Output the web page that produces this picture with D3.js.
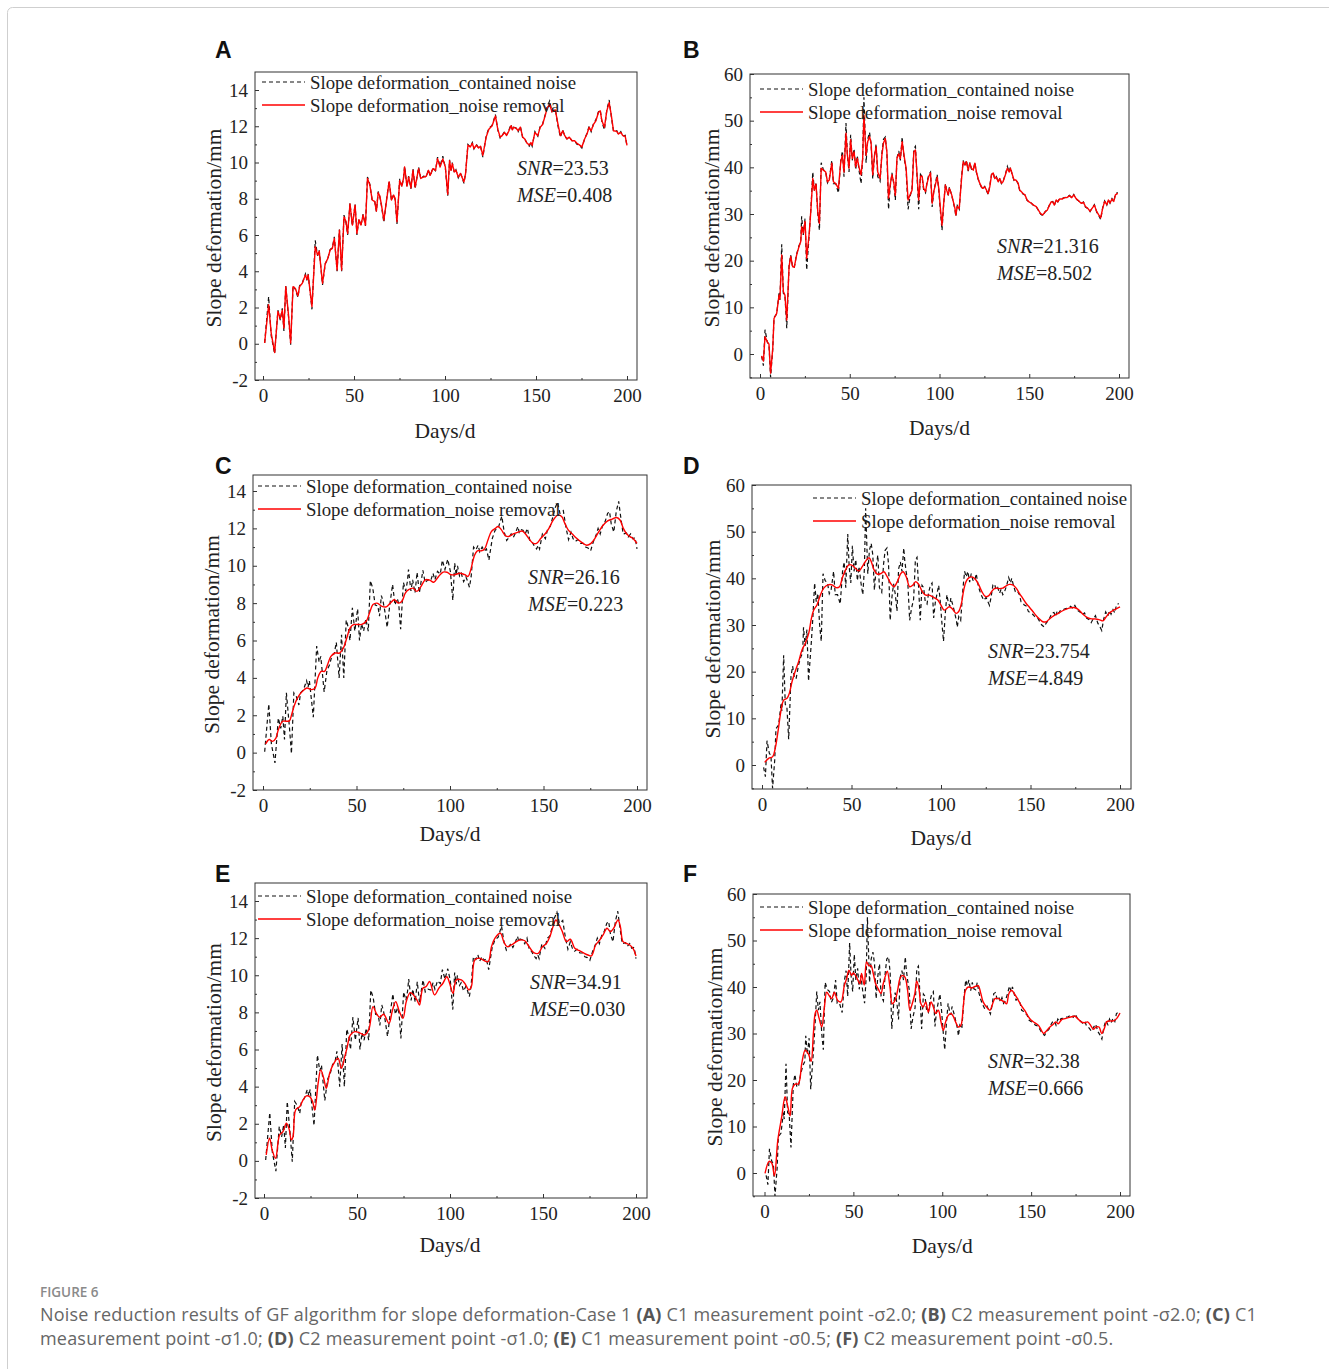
<!DOCTYPE html>
<html>
<head>
<meta charset="utf-8">
<script src="https://cdn.jsdelivr.net/npm/d3@7"></script>
<style>
  html, body { margin: 0; padding: 0; background: #fff; }
  svg { display: block; }
  .tick text { font-family: "Liberation Serif", "Times New Roman", serif; font-size: 19px; fill: #222; }
  .domain { display: none; }
  .tick line { stroke: #333; stroke-width: 1; }
</style>
</head>
<body>
<svg id="fig" width="1329" height="1369"></svg>
<script>
// ---- C1 measurement point: raw series with noise and Gaussian-filtered results ----
const c1Days = [0.9,3.1,4.5,6.4,8.2,9.5,10.6,11.5,12.5,14.1,15.2,16.5,17.8,19.2,20.1,21.6,23.3,24.1,24.8,26.9,28.7,30.0,30.9,32.7,34.2,35.6,36.9,38.1,39.2,40.7,42.0,43.2,44.5,45.6,46.5,47.8,49.1,50.6,51.6,52.7,53.8,55.0,56.3,57.4,58.7,60.0,61.4,62.3,63.3,64.2,65.1,66.4,67.8,69.3,70.6,71.8,72.6,73.6,75.1,76.3,77.2,77.8,79.1,80.0,81.3,82.4,83.6,85.5,86.7,88.2,89.7,90.9,91.9,93.3,94.8,95.9,97.3,98.8,100.2,101.5,102.5,103.3,104.0,105.1,106.0,107.3,108.5,109.3,110.4,111.3,112.6,113.9,115.0,115.9,117.2,118.5,119.5,120.8,122.6,124.1,125.9,127.7,129.0,130.3,131.4,132.7,133.8,135.0,136.3,137.0,137.7,139.0,140.2,141.4,142.7,143.8,145.1,146.3,147.2,147.9,149.4,151.0,152.3,153.6,155.1,156.2,157.5,158.8,160.6,162.1,163.4,164.7,165.8,167.0,168.3,169.8,171.2,172.5,173.8,175.2,176.7,178.0,179.2,180.3,181.6,182.9,184.3,185.3,186.2,187.6,188.9,190.2,191.3,192.6,194.4,195.3,196.6,197.7,199.0,200.0];
const c1Noisy = [0.05,2.6,0.45,-0.55,1.85,1.3,1.95,0.7,3.2,1.4,-0.05,3.2,3.0,2.55,3.2,3.35,3.85,3.5,3.85,1.9,5.7,4.85,5.15,3.25,4.4,4.7,5.2,5.3,5.9,4.0,6.3,4.0,7.1,6.7,6.0,7.75,6.5,7.7,6.0,6.9,6.5,7.15,6.5,9.2,8.8,7.9,7.85,7.3,8.4,8.1,7.6,6.7,7.9,9.0,7.9,8.25,7.95,6.6,9.1,8.65,9.15,9.8,8.65,9.25,8.55,9.65,8.55,9.75,9.1,9.25,9.2,9.6,9.25,9.7,9.55,10.3,9.8,10.35,9.7,8.15,10.15,9.5,10.0,9.45,9.6,9.15,9.4,9.2,8.85,9.4,11.0,10.85,11.1,10.75,11.0,10.8,10.9,10.3,11.45,11.9,12.05,12.65,11.8,11.35,11.5,11.7,11.5,11.75,12.1,11.8,11.95,11.9,11.7,12.0,11.35,11.3,11.05,10.9,11.1,10.9,11.7,11.45,12.0,12.1,12.65,13.1,13.4,12.8,12.95,12.0,11.4,11.8,11.45,11.3,11.4,11.2,11.2,11.0,10.95,10.8,11.3,11.6,12.0,11.7,12.15,12.35,12.8,12.9,12.25,11.8,12.9,13.45,12.6,11.7,11.75,11.55,11.7,11.45,11.5,10.9];
const c1GfSigma20 = [0.04,2.15,0.59,-0.48,1.78,1.4,1.85,0.86,3.15,1.5,0.04,3.15,3.05,2.64,3.15,3.34,3.8,3.55,3.8,2.05,5.35,4.9,5.1,3.34,4.43,4.7,5.17,5.26,5.82,4.07,6.27,4.07,7.0,6.74,6.09,7.71,6.55,7.65,6.09,6.85,6.55,7.1,6.55,9.12,8.76,7.93,7.84,7.32,8.33,8.15,7.65,6.82,7.84,8.93,7.93,8.2,8.0,6.73,9.0,8.7,9.12,9.75,8.7,9.2,8.6,9.57,8.65,9.66,9.12,9.2,9.24,9.57,9.3,9.66,9.57,10.21,9.75,10.2,9.75,8.25,10.1,9.57,9.94,9.48,9.57,9.2,9.4,9.2,8.93,9.39,10.95,10.86,11.06,10.77,10.95,10.8,10.9,10.4,11.4,11.84,12.03,12.57,11.84,11.4,11.48,11.66,11.5,11.72,12.03,11.8,11.94,11.9,11.75,11.95,11.4,11.3,11.06,10.97,11.1,10.95,11.66,11.48,11.94,12.1,12.6,13.03,13.2,12.8,12.9,12.1,11.48,11.75,11.48,11.3,11.4,11.2,11.2,11.06,10.97,10.86,11.3,11.57,11.94,11.75,12.1,12.3,12.76,12.85,12.3,11.94,12.85,13.3,12.66,11.75,11.72,11.57,11.66,11.48,11.45,10.95];
const c1GfSigma10Days = [1.4,3.3,5.1,6.9,8.2,10.5,12.3,14.1,15.3,16.6,18.4,20.7,23.4,26.1,27.9,29.3,31.1,32.9,34.5,36.3,38.6,40.9,43.0,44.8,46.6,48.4,50.5,52.8,55.2,57.0,58.8,61.0,63.6,65.9,68.1,70.2,72.5,74.3,76.1,77.9,80.2,82.3,84.5,86.8,89.1,91.3,93.9,96.3,98.4,100.5,102.5,105.2,107.9,109.6,111.1,112.9,114.6,116.8,118.5,120.3,122.1,124.3,125.7,127.5,129.3,131.1,133.8,136.5,138.6,140.4,142.7,144.5,146.3,148.6,150.8,152.9,155.2,157.9,159.7,161.4,163.2,165.4,167.7,170.4,173.1,175.4,177.5,179.6,182.0,184.3,186.8,189.1,190.9,192.7,194.5,196.2,198.0,200.0];
const c1GfSigma10 = [0.46,0.7,0.6,0.78,1.23,1.68,1.68,1.7,2.03,2.48,2.92,3.24,3.46,3.37,3.46,4.0,4.35,4.35,4.7,5.15,5.33,5.33,5.6,6.13,6.67,6.85,6.86,6.86,7.03,7.48,7.92,8.0,7.83,7.8,8.0,8.18,8.0,8.1,8.54,8.72,8.8,8.63,8.9,9.25,9.23,9.12,9.43,9.66,9.65,9.52,9.52,9.6,9.52,9.43,9.78,10.5,10.8,10.8,10.9,11.38,11.83,12.0,12.1,11.92,11.65,11.56,11.7,11.8,11.86,11.7,11.38,11.2,11.2,11.47,11.7,12.0,12.45,12.72,12.63,12.27,11.92,11.7,11.47,11.25,11.1,11.2,11.47,11.83,12.18,12.4,12.5,12.58,12.45,12.0,11.7,11.56,11.45,11.2];
const c1GfSigma05Days = [1.2,3.0,4.4,6.2,8.4,10.2,12.0,13.4,14.7,15.6,17.0,19.2,21.0,22.8,24.6,26.1,27.3,29.1,30.5,32.1,33.5,35.3,37.1,39.8,41.6,43.4,44.6,46.4,48.8,51.4,54.1,56.4,58.6,60.4,62.2,64.3,67.2,69.0,70.8,72.6,74.7,76.5,78.6,80.4,82.2,83.6,85.4,87.2,89.0,91.7,94.0,96.2,98.3,99.8,101.6,103.4,106.1,107.9,110.2,111.5,113.3,115.6,117.8,120.5,122.3,124.1,127.1,128.9,130.7,133.0,135.7,137.5,140.2,142.5,145.0,147.4,149.7,151.9,153.7,155.4,156.9,158.7,160.4,162.6,164.7,167.1,168.8,171.5,174.2,176.0,178.3,180.5,182.3,184.4,186.2,188.0,190.3,191.6,193.0,194.8,196.6,198.4,200.0];
const c1GfSigma05 = [0.32,1.22,0.59,0.14,1.4,1.57,2.03,1.75,1.13,1.3,2.74,2.92,3.28,3.5,3.46,3.2,2.74,4.18,4.9,4.45,3.91,4.72,5.17,5.53,4.99,5.61,6.07,6.78,6.96,6.9,6.78,7.09,8.31,7.95,7.74,7.9,7.41,8.09,8.58,8.1,7.68,8.58,9.06,8.94,8.67,8.4,9.3,9.39,9.66,8.94,9.3,9.57,9.92,9.57,9.03,9.75,9.75,9.57,9.21,9.39,10.82,10.92,10.82,10.73,11.54,11.99,12.26,11.81,11.54,11.63,11.81,11.9,11.86,11.54,11.22,11.18,11.54,11.72,12.08,12.62,12.98,12.71,12.35,11.81,11.94,11.45,11.36,11.22,11.09,11.04,11.63,11.9,12.17,12.53,12.35,12.53,12.98,12.62,11.81,11.72,11.63,11.45,11.04];

// ---- C2 measurement point: raw series with noise and Gaussian-filtered results ----
const c2Days = [0.9,1.9,2.8,4.1,5.0,5.9,7.1,7.8,9.3,10.6,11.1,12.1,13.0,13.9,14.9,16.2,17.1,18.2,19.1,20.4,21.7,22.7,23.2,24.1,25.1,26.0,27.5,28.4,29.4,30.3,31.2,32.2,33.1,34.1,35.3,36.6,37.6,38.6,40.0,40.9,42.2,43.7,45.0,45.9,46.8,47.9,48.7,49.6,50.5,51.4,52.4,53.3,54.2,55.3,56.3,57.2,57.9,59.1,60.0,61.0,61.9,62.8,63.8,64.7,65.6,66.9,67.9,68.8,69.8,70.7,71.6,72.6,73.5,74.5,75.4,76.3,77.3,78.2,79.2,79.7,80.5,81.4,82.5,83.5,84.7,85.7,86.6,87.5,88.4,89.4,90.3,91.2,92.2,93.1,94.1,95.0,95.9,96.8,98.7,99.6,100.5,101.4,102.4,103.3,104.0,104.9,105.5,106.8,108.6,109.1,109.9,111.0,112.3,113.2,114.1,115.0,116.0,116.9,117.8,118.8,119.7,120.6,121.5,122.4,123.9,125.2,126.2,127.1,128.0,129.0,129.9,130.8,131.7,132.7,133.6,134.5,135.4,136.7,137.8,138.8,139.5,140.6,141.5,142.5,143.8,144.7,145.6,146.5,147.6,148.8,149.9,151.2,152.4,153.9,155.2,156.3,157.6,158.9,160.0,161.3,162.2,163.1,164.0,165.0,165.9,166.8,168.3,169.6,170.9,172.4,173.7,174.8,176.1,177.6,178.9,180.2,181.3,182.6,183.9,185.0,186.3,187.6,188.7,189.8,190.9,192.0,193.2,194.1,195.0,196.1,197.1,198.0,199.3];
const c2Noisy = [-0.5,-2.5,5.2,2.5,2.0,-5.0,1.0,7.8,8.6,13.0,11.6,23.5,13.0,12.5,5.5,19.0,21.2,18.5,18.6,21.4,23.2,24.0,29.5,25.5,29.0,18.0,26.0,31.5,39.0,35.0,36.8,30.0,26.5,41.0,39.5,39.0,36.7,37.5,41.5,36.5,36.5,34.5,41.5,43.5,38.0,49.5,42.5,39.0,47.0,41.5,44.0,39.5,42.5,39.0,36.5,42.0,55.0,41.0,46.0,47.5,45.0,37.5,42.5,45.0,38.0,37.0,43.0,46.0,46.5,43.0,31.0,36.0,38.8,36.5,33.0,42.0,43.5,41.5,46.5,44.0,41.5,39.5,31.0,33.5,35.5,44.0,44.5,38.0,31.0,38.5,38.0,35.0,34.5,37.0,38.5,39.0,31.5,34.8,38.5,35.0,30.5,26.5,32.5,36.5,35.0,34.0,35.8,34.0,31.0,29.5,31.8,31.0,38.0,41.5,40.3,41.5,39.2,41.0,39.6,39.4,41.0,38.8,37.5,36.5,35.3,35.9,35.0,34.2,36.0,38.6,38.8,37.5,38.0,36.8,37.7,36.5,37.0,38.5,40.2,39.0,40.0,38.3,37.2,37.4,36.5,35.0,34.8,34.3,34.1,32.9,32.6,32.3,31.8,31.6,30.7,30.0,29.6,30.5,30.9,32.0,32.6,32.7,31.8,33.1,32.6,33.2,33.3,33.5,33.6,34.0,33.5,34.2,33.2,32.8,32.2,32.6,31.5,31.2,30.5,31.3,32.0,30.4,29.7,28.8,31.3,32.8,31.9,33.1,32.3,33.3,32.6,34.3,34.6];
const c2GfSigma20 = [-0.4,-1.5,3.7,2.6,2.1,-4.1,1.2,7.6,8.7,12.6,11.8,21.2,13.4,12.6,7.3,18.7,20.9,18.7,18.6,21.2,23.0,24.1,27.3,25.9,28.4,20.5,26.2,31.2,37.6,35.1,36.4,30.5,28.0,39.8,39.4,39.0,36.9,37.3,40.9,36.9,36.5,35.5,41.2,42.6,39.0,47.3,42.6,39.8,45.9,41.9,43.3,40.1,41.9,39.8,38.4,41.9,51.2,42.6,45.5,46.6,45.2,38.4,42.6,44.4,39.0,37.6,42.6,45.2,46.2,43.3,33.4,36.4,38.4,36.9,34.0,41.9,42.9,41.9,45.5,44.1,41.9,39.8,33.0,34.0,35.1,43.3,43.7,38.4,33.0,38.1,38.1,35.5,34.8,36.6,38.1,38.8,32.3,34.8,37.9,35.5,31.2,27.6,32.6,36.2,35.1,34.1,35.5,34.1,31.2,29.8,31.6,31.2,37.6,41.2,40.5,41.2,39.4,40.9,39.8,39.4,40.9,39.0,37.6,36.6,35.5,35.8,35.1,34.4,35.8,38.4,38.8,37.6,37.9,36.9,37.6,36.6,36.9,38.4,39.8,39.0,39.8,38.4,37.3,37.3,36.6,35.1,34.8,34.4,34.1,33.0,32.6,32.3,31.9,31.6,30.8,30.1,29.8,30.5,30.8,31.9,32.6,32.6,31.9,33.0,32.6,33.2,33.2,33.5,33.5,33.9,33.5,34.1,33.3,32.8,32.3,32.5,31.6,31.2,30.6,31.2,31.9,30.5,29.8,29.2,31.2,32.7,32.0,33.0,32.4,33.2,32.7,34.1,34.4];
const c2GfSigma10Days = [1.5,3.7,6.0,7.4,8.9,10.8,12.1,14.0,15.3,16.8,18.6,20.5,22.3,24.2,26.1,27.6,28.9,30.7,32.6,34.5,36.9,39.2,41.4,43.3,44.8,46.7,48.5,50.4,52.3,54.1,56.0,57.9,59.8,61.2,62.5,64.4,66.3,68.1,70.0,71.9,73.7,75.6,77.5,78.8,80.6,82.5,84.4,85.9,87.7,89.6,91.5,93.4,95.6,98.1,99.9,101.8,104.7,106.5,108.4,109.9,111.4,112.7,114.0,115.5,117.3,119.2,121.1,122.9,124.8,126.7,128.5,130.4,132.6,134.5,136.4,138.2,140.1,142.0,143.8,145.7,147.6,149.4,151.3,153.2,155.0,156.9,158.8,160.6,163.1,165.5,167.7,170.0,172.4,174.9,177.1,179.3,181.8,184.2,186.4,188.7,190.5,192.0,193.9,195.7,197.6,200.0];
const c2GfSigma10 = [0.57,1.43,1.8,3.6,7.1,12.1,13.9,14.3,15.4,17.9,20.1,22.2,24.6,26.1,28.2,31.4,33.2,34.3,36.4,37.9,38.6,38.6,38.0,38.2,40.0,41.8,42.9,42.8,42.1,41.6,42.5,43.7,44.4,43.4,41.9,40.9,41.0,41.4,40.3,38.9,38.2,39.3,41.0,41.4,40.3,38.2,38.6,39.3,38.6,37.1,36.4,36.4,36.0,35.4,34.3,33.2,33.9,33.4,32.5,32.9,34.6,37.5,39.3,40.1,40.3,39.8,38.6,37.1,36.1,36.3,37.3,37.9,37.8,37.9,38.4,38.7,38.6,37.9,36.8,35.7,34.6,33.8,32.9,32.0,31.3,30.7,30.7,31.3,32.0,32.5,33.0,33.4,33.7,33.7,33.2,32.3,31.6,31.3,31.3,31.1,30.9,31.6,32.5,33.0,33.4,33.9];
const c2GfSigma05Days = [0.3,2.6,4.1,5.6,7.5,9.7,11.6,13.1,14.4,15.7,17.2,19.1,21.0,22.9,24.7,26.2,27.5,28.5,29.4,30.7,32.2,33.7,35.0,36.3,37.8,39.3,41.2,43.0,44.9,46.2,47.5,49.0,49.9,51.2,52.4,53.7,54.6,56.1,57.4,58.7,59.9,61.2,62.5,64.0,65.5,66.8,68.1,69.1,70.6,71.9,73.4,74.9,76.2,77.5,79.0,80.5,81.8,83.1,84.6,85.6,86.9,88.0,89.3,90.7,92.2,93.7,95.0,96.3,97.8,99.3,100.6,101.9,103.4,104.9,106.2,107.5,109.0,110.5,111.8,113.1,114.6,116.5,118.4,120.2,121.7,123.0,124.9,126.8,128.1,129.6,131.5,133.4,134.9,136.2,137.5,139.0,140.5,141.8,143.3,145.0,146.5,148.0,149.9,152.1,154.0,155.5,157.0,158.7,160.6,162.5,163.8,165.3,167.2,169.1,170.9,172.8,174.7,176.2,178.1,179.9,181.8,183.7,185.0,186.5,188.2,189.7,191.2,192.5,194.4,196.3,198.1,200.0];
const c2GfSigma05 = [-0.1,2.5,2.1,-0.6,7.1,12.1,16.4,14.3,12.3,18.2,19.1,19.2,23.6,26.4,25.6,24.0,30.0,34.3,35.0,33.3,31.4,35.7,38.9,38.2,37.5,38.9,37.1,36.8,40.3,41.8,43.6,42.5,43.0,42.5,41.6,40.7,42.9,40.4,45.4,44.6,44.6,42.9,40.7,39.6,38.6,40.7,42.5,43.4,39.9,36.4,37.1,39.3,41.8,42.5,42.1,39.3,35.0,36.4,38.6,41.3,39.6,36.4,35.7,36.8,34.6,36.8,35.7,34.3,35.0,32.5,30.7,32.5,33.9,34.3,33.7,32.5,31.4,31.8,35.7,39.3,40.0,39.8,40.1,40.3,38.6,36.8,35.7,35.0,36.1,37.5,37.5,37.1,36.8,36.4,38.6,39.3,38.6,37.8,36.8,35.7,34.9,33.9,32.9,32.3,31.8,30.9,30.0,30.6,31.4,32.0,32.5,32.1,33.0,33.2,33.4,33.6,33.7,33.2,32.5,32.3,32.5,31.6,30.9,31.4,31.4,30.0,31.1,32.5,32.7,32.7,33.2,34.4];

// ---- axis ticks and panel annotations ----
const xTicks = [0, 50, 100, 150, 200];
const xMinorTicks = [25, 75, 125, 175];
const c1YTicks = [-2, 0, 2, 4, 6, 8, 10, 12, 14];
const c1YMinorTicks = [-1, 1, 3, 5, 7, 9, 11, 13];
const c2YTicks = [0, 10, 20, 30, 40, 50, 60];
const c2YMinorTicks = [-5, 5, 15, 25, 35, 45, 55];
const panelLetters = ["A", "B", "C", "D", "E", "F"];
const snrValues = ["23.53", "21.316", "26.16", "23.754", "34.91", "32.38"];
const mseValues = ["0.408", "8.502", "0.223", "4.849", "0.030", "0.666"];
const legendLabels = ["Slope deformation_contained noise", "Slope deformation_noise removal"];

const c1 = { days: c1Days, noisy: c1Noisy, yTicks: c1YTicks, yMinor: c1YMinorTicks };
const c2 = { days: c2Days, noisy: c2Noisy, yTicks: c2YTicks, yMinor: c2YMinorTicks };

// Layout of the six panels (plot frame in px, axis mapping anchors, annotation spots)
const panels = [
  { set: c1, gfDays: c1Days, gf: c1GfSigma20, smooth: false,
    box: [255, 72, 637, 380], x0: 263, x200: 627, yRef: [-2, 380, 14, 90],
    legend: [262, 82], stats: [517, 175], letter: [215, 58], ylab: 213, xlab: 430 },
  { set: c2, gfDays: c2Days, gf: c2GfSigma20, smooth: false,
    box: [750, 74, 1129, 378], x0: 760, x200: 1119, yRef: [0, 354, 60, 74],
    legend: [760, 89], stats: [997, 253], letter: [683, 58], ylab: 711, xlab: 427 },
  { set: c1, gfDays: c1GfSigma10Days, gf: c1GfSigma10, smooth: true,
    box: [253, 475, 647, 790], x0: 263, x200: 637, yRef: [-2, 790, 14, 491],
    legend: [258, 486], stats: [528, 584], letter: [215, 474], ylab: 211, xlab: 833 },
  { set: c2, gfDays: c2GfSigma10Days, gf: c2GfSigma10, smooth: true,
    box: [752, 485, 1131, 789], x0: 762, x200: 1120, yRef: [0, 765, 60, 485],
    legend: [813, 498], stats: [988, 658], letter: [683, 474], ylab: 712, xlab: 837 },
  { set: c1, gfDays: c1GfSigma05Days, gf: c1GfSigma05, smooth: true,
    box: [255, 883, 647, 1198], x0: 264, x200: 636, yRef: [-2, 1198, 14, 901],
    legend: [258, 896], stats: [530, 989], letter: [215, 882], ylab: 213, xlab: 1244 },
  { set: c2, gfDays: c2GfSigma05Days, gf: c2GfSigma05, smooth: true,
    box: [753, 894, 1130, 1196], x0: 764.5, x200: 1120, yRef: [0, 1173, 60, 894],
    legend: [760, 907], stats: [988, 1068], letter: [683, 882], ylab: 714, xlab: 1245 }
];

const svg = d3.select("#fig");
const serif = '"Liberation Serif", "Times New Roman", serif';
const plainNumber = d => String(d);   // hyphen-minus, as printed on the axes

// card outline
svg.append("rect").attr("x", 7.5).attr("y", 7.5).attr("width", 1400).attr("height", 1400)
  .attr("rx", 5).attr("fill", "none").attr("stroke", "#cfcfcf").attr("stroke-width", 1);

panels.forEach((p, i) => {
  const [L, T, R, B] = p.box;
  // scales anchored on the drawn tick positions
  const pxPerDay = (p.x200 - p.x0) / 200;
  const x = d3.scaleLinear()
    .domain([(L - p.x0) / pxPerDay, 200 + (R - p.x200) / pxPerDay])
    .range([L, R]);
  const [v0, y0, v1, y1] = p.yRef;
  const pxPerUnit = (y0 - y1) / (v1 - v0);
  const y = d3.scaleLinear()
    .domain([v0 - (B - y0) / pxPerUnit, v1 + (y1 - T) / pxPerUnit])
    .range([B, T]);

  const g = svg.append("g");
  const clipId = "clip" + i;
  g.append("clipPath").attr("id", clipId).append("rect")
    .attr("x", L).attr("y", T).attr("width", R - L).attr("height", B - T);

  // data lines
  const lines = g.append("g").attr("clip-path", `url(#${clipId})`);
  const noisyPts = p.set.days.map((d, k) => [d, p.set.noisy[k]]);
  const gfPts = p.gfDays.map((d, k) => [d, p.gf[k]]);
  const lin = d3.line().x(d => x(d[0])).y(d => y(d[1]));
  const smooth = d3.line().x(d => x(d[0])).y(d => y(d[1])).curve(d3.curveCatmullRom.alpha(0.5));

  lines.append("path").datum(noisyPts).attr("d", lin)
    .attr("fill", "none").attr("stroke", "#111").attr("stroke-width", 1.2)
    .attr("stroke-dasharray", "4,3");
  lines.append("path").datum(gfPts).attr("d", p.smooth ? smooth : lin)
    .attr("fill", "none").attr("stroke", "#ff0000").attr("stroke-width", 1.4)
    .attr("stroke-linejoin", "round");

  // axes with inward ticks
  g.append("g").attr("transform", `translate(0,${B})`)
    .call(d3.axisBottom(x).tickValues(xTicks).tickFormat(plainNumber)
      .tickSizeInner(-4).tickSizeOuter(0).tickPadding(9));
  g.append("g").attr("transform", `translate(0,${B})`)
    .call(d3.axisBottom(x).tickValues(xMinorTicks).tickSizeInner(-2).tickSizeOuter(0).tickFormat(""));
  g.append("g").attr("transform", `translate(${L},0)`)
    .call(d3.axisLeft(y).tickValues(p.set.yTicks).tickFormat(plainNumber)
      .tickSizeInner(-4).tickSizeOuter(0).tickPadding(7));
  g.append("g").attr("transform", `translate(${L},0)`)
    .call(d3.axisLeft(y).tickValues(p.set.yMinor).tickSizeInner(-2).tickSizeOuter(0).tickFormat(""));

  // frame
  g.append("rect").attr("x", L).attr("y", T).attr("width", R - L).attr("height", B - T)
    .attr("fill", "none").attr("stroke", "#333").attr("stroke-width", 1);

  // axis titles
  g.append("text").attr("x", (p.x0 + p.x200) / 2).attr("y", p.xlab).attr("dy", "0.35em")
    .attr("text-anchor", "middle").attr("font-family", serif).attr("font-size", 21.5).attr("fill", "#222")
    .text("Days/d");
  g.append("text")
    .attr("transform", `translate(${p.ylab},${(T + B) / 2 + 2}) rotate(-90)`)
    .attr("dy", "0.35em").attr("text-anchor", "middle")
    .attr("font-family", serif).attr("font-size", 21.5).attr("fill", "#222")
    .text("Slope deformation/mm");

  // panel letter
  g.append("text").attr("x", p.letter[0]).attr("y", p.letter[1])
    .attr("font-family", '"Liberation Sans", Arial, sans-serif').attr("font-weight", "bold")
    .attr("font-size", 23).attr("fill", "#111").text(panelLetters[i]);

  // legend
  const [lx, ly] = p.legend;
  const leg = g.append("g");
  leg.append("line").attr("x1", lx).attr("x2", lx + 43).attr("y1", ly).attr("y2", ly)
    .attr("stroke", "#111").attr("stroke-width", 1.2).attr("stroke-dasharray", "4,3");
  leg.append("line").attr("x1", lx).attr("x2", lx + 43).attr("y1", ly + 23).attr("y2", ly + 23)
    .attr("stroke", "#ff0000").attr("stroke-width", 1.4);
  legendLabels.forEach((t, k) => {
    leg.append("text").attr("x", lx + 48).attr("y", ly + 23 * k).attr("dy", "0.35em")
      .attr("font-family", serif).attr("font-size", 18.8).attr("fill", "#222").text(t);
  });

  // statistics
  const [sx, sy] = p.stats;
  const s1 = g.append("text").attr("x", sx).attr("y", sy)
    .attr("font-family", serif).attr("font-size", 20).attr("fill", "#222");
  s1.append("tspan").attr("font-style", "italic").text("SNR");
  s1.append("tspan").text("=" + snrValues[i]);
  const s2 = g.append("text").attr("x", sx).attr("y", sy + 27)
    .attr("font-family", serif).attr("font-size", 20).attr("fill", "#222");
  s2.append("tspan").attr("font-style", "italic").text("MSE");
  s2.append("tspan").text("=" + mseValues[i]);
});

// figure caption
const sans = '"Open Sans", "Noto Sans", sans-serif';
svg.append("text").attr("x", 40).attr("y", 1297)
  .attr("font-family", sans).attr("font-size", 13.5).attr("font-weight", 600)
  .attr("fill", "#8a8a8a").text("FIGURE 6");

const captionLines = [
  [["Noise reduction results of GF algorithm for slope deformation-Case 1 ", 0], ["(A)", 1],
   [" C1 measurement point -σ2.0; ", 0], ["(B)", 1], [" C2 measurement point -σ2.0; ", 0],
   ["(C)", 1], [" C1", 0]],
  [["measurement point -σ1.0; ", 0], ["(D)", 1], [" C2 measurement point -σ1.0; ", 0],
   ["(E)", 1], [" C1 measurement point -σ0.5; ", 0], ["(F)", 1], [" C2 measurement point -σ0.5.", 0]]
];
captionLines.forEach((segs, k) => {
  const t = svg.append("text").attr("x", 40).attr("y", 1321 + 24 * k)
    .attr("font-family", sans).attr("font-size", 18).attr("letter-spacing", 0.2).attr("fill", "#666");
  segs.forEach(([s, b]) => {
    t.append("tspan").attr("font-weight", b ? 700 : 400).attr("fill", b ? "#555" : "#666").text(s);
  });
});
</script>
</body>
</html>
